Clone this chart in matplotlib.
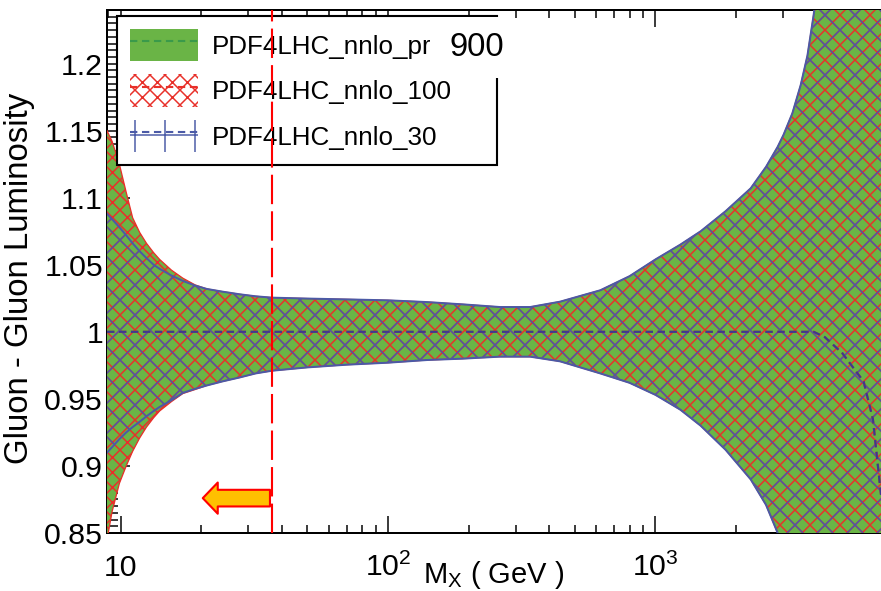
import matplotlib
matplotlib.use("Agg")
import matplotlib.pyplot as plt
from matplotlib.patches import Patch, Rectangle
from matplotlib.lines import Line2D
from matplotlib.ticker import FixedLocator, FixedFormatter, MultipleLocator, NullFormatter

MASS = [8.9, 9.3, 9.9, 10.5, 11.1, 11.8, 12.5, 13.3, 14.0, 15.5, 17.1, 19.0, 21.0, 24.0,
        27.9, 32.0, 36.8, 50, 70, 100, 140, 190, 262, 340, 440, 622, 800, 1000, 1238,
        1476, 1830, 2270, 2590, 2864, 3013, 3250, 3491, 3700, 3908, 4300, 5000, 6000,
        6500, 7000]

# PDF4LHC_nnlo_prior (green band)
PRIOR_UP = [1.150, 1.142, 1.125, 1.104, 1.085, 1.074, 1.066, 1.059, 1.054, 1.046, 1.040,
            1.035, 1.032, 1.030, 1.028, 1.0265, 1.0255, 1.0248, 1.0242, 1.0235, 1.0222,
            1.0205, 1.0185, 1.0185, 1.0225, 1.031, 1.0415, 1.054, 1.065, 1.075, 1.090,
            1.107, 1.123, 1.138, 1.147, 1.163, 1.184, 1.206, 1.237, 1.31, 1.45, 1.65,
            1.75, 1.85]
PRIOR_LO = [0.845, 0.866, 0.887, 0.900, 0.911, 0.921, 0.929, 0.936, 0.941, 0.948, 0.954,
            0.957, 0.960, 0.963, 0.966, 0.969, 0.971, 0.9735, 0.9755, 0.977, 0.979, 0.980,
            0.9815, 0.9815, 0.978, 0.969, 0.962, 0.953, 0.942, 0.930, 0.912, 0.890,
            0.871, 0.850, 0.838, 0.818, 0.795, 0.775, 0.752, 0.700, 0.600, 0.450,
            0.380, 0.300]

# PDF4LHC_nnlo_100 (red hatch)
N100_UP = [1.150, 1.142, 1.125, 1.104, 1.085, 1.074, 1.066, 1.059, 1.054, 1.046, 1.040,
           1.035, 1.032, 1.030, 1.028, 1.0265, 1.0255, 1.0248, 1.0242, 1.0235, 1.0222,
           1.0205, 1.0185, 1.0185, 1.0225, 1.031, 1.0415, 1.054, 1.065, 1.075, 1.090,
           1.107, 1.123, 1.138, 1.147, 1.163, 1.184, 1.206, 1.237, 1.31, 1.45, 1.65,
           1.75, 1.85]
N100_LO = [0.845, 0.866, 0.887, 0.900, 0.911, 0.921, 0.929, 0.936, 0.941, 0.948, 0.954,
           0.957, 0.960, 0.963, 0.966, 0.969, 0.971, 0.9735, 0.9755, 0.977, 0.979, 0.980,
           0.9815, 0.9815, 0.978, 0.969, 0.962, 0.953, 0.942, 0.930, 0.912, 0.890,
           0.871, 0.850, 0.838, 0.818, 0.795, 0.775, 0.752, 0.700, 0.600, 0.450,
           0.380, 0.300]

# PDF4LHC_nnlo_30 (blue hatch)
N30_UP = [1.088, 1.084, 1.078, 1.072, 1.066, 1.060, 1.055, 1.050, 1.047, 1.042, 1.038,
          1.0345, 1.032, 1.030, 1.028, 1.0265, 1.0255, 1.0248, 1.0242, 1.0235, 1.0222,
          1.0205, 1.0185, 1.0185, 1.0225, 1.031, 1.0415, 1.054, 1.065, 1.075, 1.090,
          1.107, 1.123, 1.138, 1.147, 1.163, 1.184, 1.206, 1.237, 1.31, 1.45, 1.65,
          1.75, 1.85]
N30_LO = [0.910, 0.914, 0.920, 0.925, 0.929, 0.933, 0.937, 0.941, 0.944, 0.949, 0.9545,
          0.9575, 0.960, 0.963, 0.966, 0.969, 0.971, 0.9735, 0.9755, 0.977, 0.979, 0.980,
          0.9815, 0.9815, 0.978, 0.969, 0.962, 0.953, 0.942, 0.930, 0.912, 0.890,
          0.871, 0.850, 0.838, 0.818, 0.795, 0.775, 0.752, 0.700, 0.600, 0.450,
          0.380, 0.300]

# central value (ratio to prior)
CENTRAL = [1, 1, 1, 1, 1, 1, 1, 1, 1, 1, 1, 1, 1, 1, 1, 1, 1, 1, 1, 1, 1, 1, 1, 1, 1, 1,
           1, 1, 1, 1, 1, 1, 1, 1, 1, 1, 1, 1, 1, 0.996, 0.984, 0.963, 0.935, 0.875]

LABELS = ["PDF4LHC_nnlo_prior", "PDF4LHC_nnlo_100", "PDF4LHC_nnlo_30"]
X_TICKS = [10, 100, 1000]
X_TICK_LABELS = ["10", "$10^2$", "$10^3$"]
Y_TICKS = [0.85, 0.9, 0.95, 1.0, 1.05, 1.1, 1.15, 1.2]
Y_TICK_LABELS = ["0.85", "0.9", "0.95", "1", "1.05", "1.1", "1.15", "1.2"]

CUT_MASS = 36.8            # dashed red vertical line
ARROW_FROM = (36.2, 0.876)
ARROW_TO = (20.3, 0.876)
REPLICAS = "900"

GREEN = "#6ab446"
GREEN_DARK = "#3a9a4a"
RED = "#e8302a"
BLUE = "#4b5aa6"
NAVY = "#3b3b8f"

# hatch tiles are one inch wide, so the dpi sets the hatch spacing
DPI = 180


def px(v):
    """pixels -> points at the output dpi"""
    return v * 72 / DPI


plt.rcParams["font.family"] = ["Liberation Sans", "DejaVu Sans"]
plt.rcParams["mathtext.fontset"] = "custom"
plt.rcParams["mathtext.rm"] = "Liberation Sans"
plt.rcParams["mathtext.it"] = "Liberation Sans:italic"
plt.rcParams["mathtext.default"] = "regular"
plt.rcParams["hatch.linewidth"] = px(1.5)

fig = plt.figure(figsize=(881 / DPI, 591 / DPI), dpi=DPI)
ax = fig.add_axes([107 / 881, 58 / 591, 774 / 881, 523 / 591])
ax.set_xscale("log")
ax.set_xlim(8.9, 6970)
ax.set_ylim(0.85, 1.24)

# bands: red hatch twice as dense as the blue one, blue drawn on top,
# so the two colours alternate
ax.fill_between(MASS, PRIOR_LO, PRIOR_UP, facecolor=GREEN, edgecolor="none", zorder=3)
with plt.rc_context({"hatch.color": RED}):
    ax.fill_between(MASS, N100_LO, N100_UP, facecolor="none", edgecolor=RED,
                    linewidth=0, hatch="xxxx", zorder=3.1)
with plt.rc_context({"hatch.color": BLUE}):
    ax.fill_between(MASS, N30_LO, N30_UP, facecolor="none", edgecolor=BLUE,
                    linewidth=0, hatch="xx", zorder=3.2)

ax.plot(MASS, N100_UP, color=RED, lw=px(1.3), zorder=3.3)
ax.plot(MASS, N100_LO, color=RED, lw=px(1.3), zorder=3.3)
ax.plot(MASS, N30_UP, color=BLUE, lw=px(2.0), zorder=3.4)
ax.plot(MASS, N30_LO, color=BLUE, lw=px(2.0), zorder=3.4)

dash = (0, (3.5, 2.2))
ax.plot(MASS, CENTRAL, color=GREEN_DARK, lw=px(2.1), ls=dash, zorder=3.5)
ax.plot(MASS, CENTRAL, color=RED, lw=px(2.1), ls=dash, zorder=3.5)
ax.plot(MASS, CENTRAL, color=NAVY, lw=px(2.1), ls=dash, zorder=3.6)

# cut line and arrow
ax.axvline(CUT_MASS, color="red", lw=px(2.1), ls=(0, (14, 3.4)), zorder=6)
ax.annotate("", xy=ARROW_TO, xytext=ARROW_FROM,
            arrowprops=dict(arrowstyle="simple,head_length=0.72,head_width=1.5,tail_width=0.8",
                            fc="#ffc000", ec="red", lw=px(2.1), shrinkA=0, shrinkB=0,
                            mutation_scale=px(20.8)), zorder=4)

# axes styling
ax.xaxis.set_major_locator(FixedLocator(X_TICKS))
ax.xaxis.set_major_formatter(FixedFormatter(X_TICK_LABELS))
ax.xaxis.set_minor_formatter(NullFormatter())
ax.yaxis.set_major_locator(FixedLocator(Y_TICKS))
ax.yaxis.set_major_formatter(FixedFormatter(Y_TICK_LABELS))
ax.yaxis.set_minor_locator(MultipleLocator(0.005))

ax.tick_params(which="both", direction="in", top=True, right=True, width=px(1.5), color="black")
ax.tick_params(axis="x", which="major", length=px(17), pad=px(43), labelsize=px(30.2))
ax.tick_params(axis="x", which="minor", length=px(8))
ax.tick_params(axis="y", which="major", length=px(23), pad=px(4), labelsize=px(30.2))
ax.tick_params(axis="y", which="minor", length=px(11))
for lbl in ax.get_xticklabels():
    lbl.set_verticalalignment("baseline")
for sp in ax.spines.values():
    sp.set_linewidth(px(2))

ax.set_xlabel("M$_X$ ( GeV )", fontsize=px(29.2), va="baseline")
ax.xaxis.set_label_coords(0.5, -0.0956)
ax.set_ylabel("Gluon - Gluon Luminosity", fontsize=px(32.9))
ax.yaxis.set_label_coords(-0.093, 0.4876)

# legend
handles = [
    (Patch(facecolor=GREEN, edgecolor="none"),
     Line2D([], [], color=GREEN_DARK, lw=px(2.1), ls=dash)),
    (Patch(facecolor="none", edgecolor=RED, hatch="xxxx", lw=0),
     Line2D([], [], color=RED, lw=px(2.1), ls=dash)),
    (Patch(facecolor="none", edgecolor=BLUE, hatch="+", lw=0),
     Line2D([], [], color=BLUE, lw=px(2.1), ls=dash)),
]
leg = ax.legend(handles, LABELS, loc="upper left", bbox_to_anchor=(0.0129, 0.9885, 0.491, 0),
                mode="expand", borderaxespad=0, fontsize=px(26), handlelength=2.6,
                handleheight=1.54, handletextpad=0.54, borderpad=0.5, labelspacing=0.5,
                fancybox=False, framealpha=1, edgecolor="black")
leg.get_frame().set_linewidth(px(2.1))
leg.set_zorder(5)

# white label box with the replica count
fig.add_artist(Rectangle((430 / 881, 1 - 78 / 591), 85 / 881, 61 / 591,
                         transform=fig.transFigure, facecolor="white", edgecolor="none", zorder=10))
fig.text(477 / 881, 1 - 47 / 591, REPLICAS, ha="center", va="center", fontsize=px(32.9), zorder=11)

fig.savefig("out.png", dpi=DPI)
